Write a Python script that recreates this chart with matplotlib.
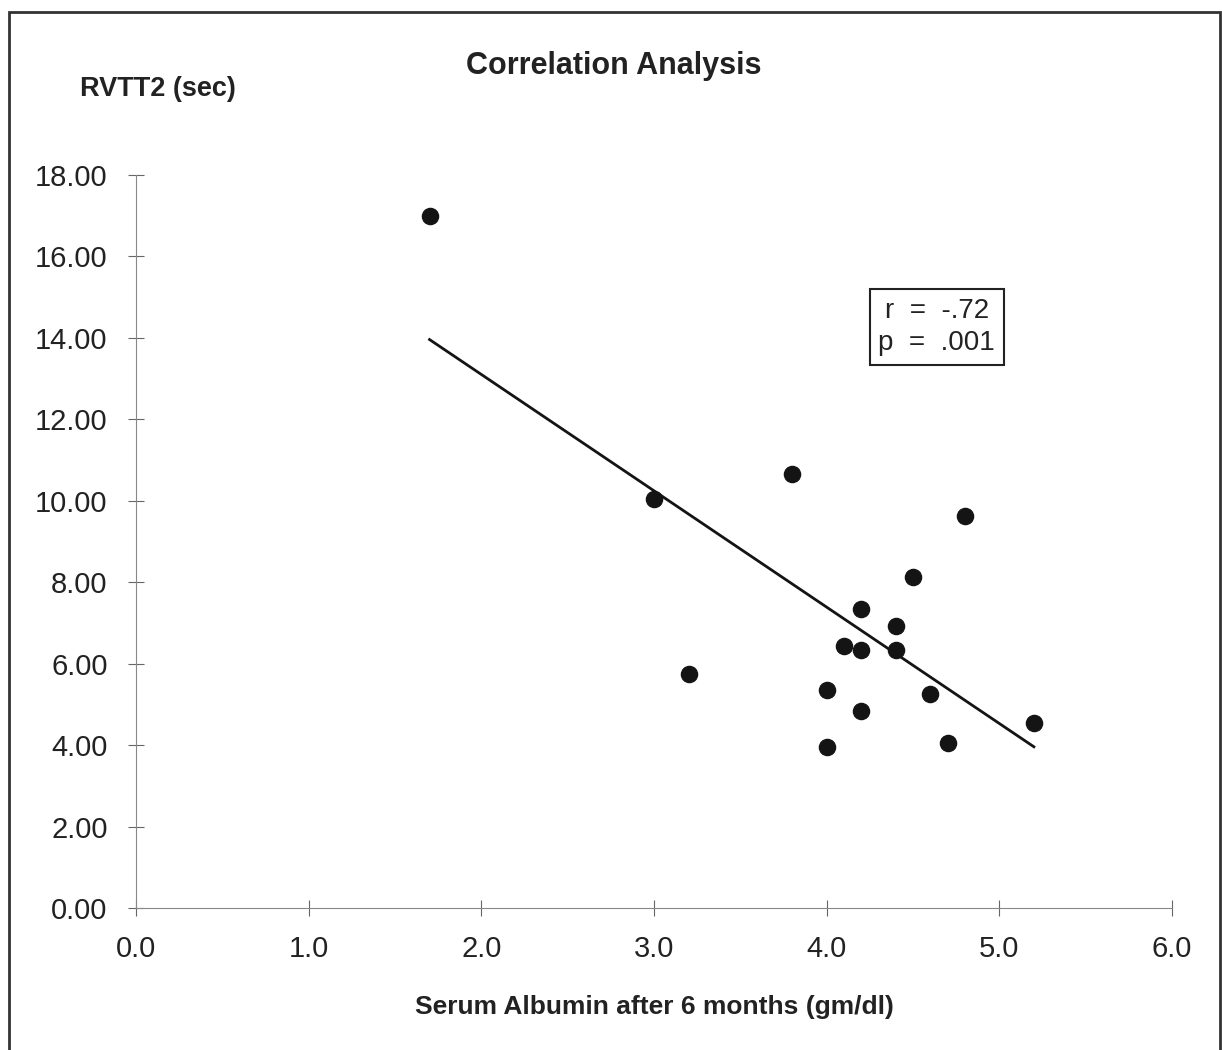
import matplotlib
matplotlib.use('Agg')
import matplotlib.pyplot as plt
from matplotlib.patches import Rectangle

# serum albumin after 6 months (gm/dl) vs RVTT2 (sec)
albumin = [1.7, 3.0, 3.2, 3.8, 4.8, 4.5, 4.2, 4.4, 4.1, 4.2, 4.4, 4.0, 4.6, 4.2, 4.0, 4.7, 5.2]
rvtt2 = [17.0, 10.05, 5.75, 10.65, 9.63, 8.13, 7.35, 6.93, 6.44, 6.34, 6.34, 5.36, 5.26, 4.84, 3.96, 4.05, 4.55]

# regression line end points as drawn
fit_x = [1.7, 5.2]
fit_y = [13.96, 3.96]

xticks = [0, 1, 2, 3, 4, 5, 6]
yticks = [0, 2, 4, 6, 8, 10, 12, 14, 16, 18]

plt.rcParams['font.family'] = ['Liberation Sans', 'DejaVu Sans']

fig = plt.figure(figsize=(12.22, 10.5), dpi=100)
ax = fig.add_axes([0.1113, 0.1352, 0.8478, 0.6981])

ax.scatter(albumin, rvtt2, s=135, color='#141414', zorder=3)
ax.plot(fit_x, fit_y, color='#141414', lw=2.0, zorder=2)

ax.set_xlim(0, 6)
ax.set_ylim(0, 18)
ax.set_xticks(xticks)
ax.set_xticklabels(['%.1f' % v for v in xticks])
ax.set_yticks(yticks)
ax.set_yticklabels(['%.2f' % v for v in yticks])
ax.tick_params(direction='inout', length=11, width=0.8, color='#666666',
               labelsize=21, labelcolor='#222222')
ax.tick_params(axis='y', pad=15)
ax.tick_params(axis='x', pad=14)

for s in ['top', 'right']:
    ax.spines[s].set_visible(False)
for s in ['left', 'bottom']:
    ax.spines[s].set_color('#888888')
    ax.spines[s].set_linewidth(0.8)
ax.spines['left'].set_linestyle((0, (6, 1)))

ax.set_xlabel('Serum Albumin after 6 months (gm/dl)', fontsize=19, fontweight='bold',
              color='#222222', labelpad=23)

fig.text(0.0655, 0.915, 'RVTT2 (sec)', fontsize=19.5, fontweight='bold', color='#222222',
         ha='left', va='center')
fig.text(0.502, 0.937, 'Correlation Analysis', fontsize=22, fontweight='bold',
         color='#222222', ha='center', va='center')

ax.text(0.773, 0.793, 'r  =  -.72\np  =  .001', transform=ax.transAxes, fontsize=20,
        color='#222222', ha='center', va='center', linespacing=1.3,
        bbox=dict(boxstyle='square,pad=0.32', fc='white', ec='#222222', lw=1.5))

# outer frame of the figure
fig.patches.append(Rectangle((9 / 1222, -0.01), 1211 / 1222, 1 - 12 / 1050 + 0.01,
                             transform=fig.transFigure, fill=False, ec='#333333', lw=2))

fig.savefig('out.png', dpi=100)
